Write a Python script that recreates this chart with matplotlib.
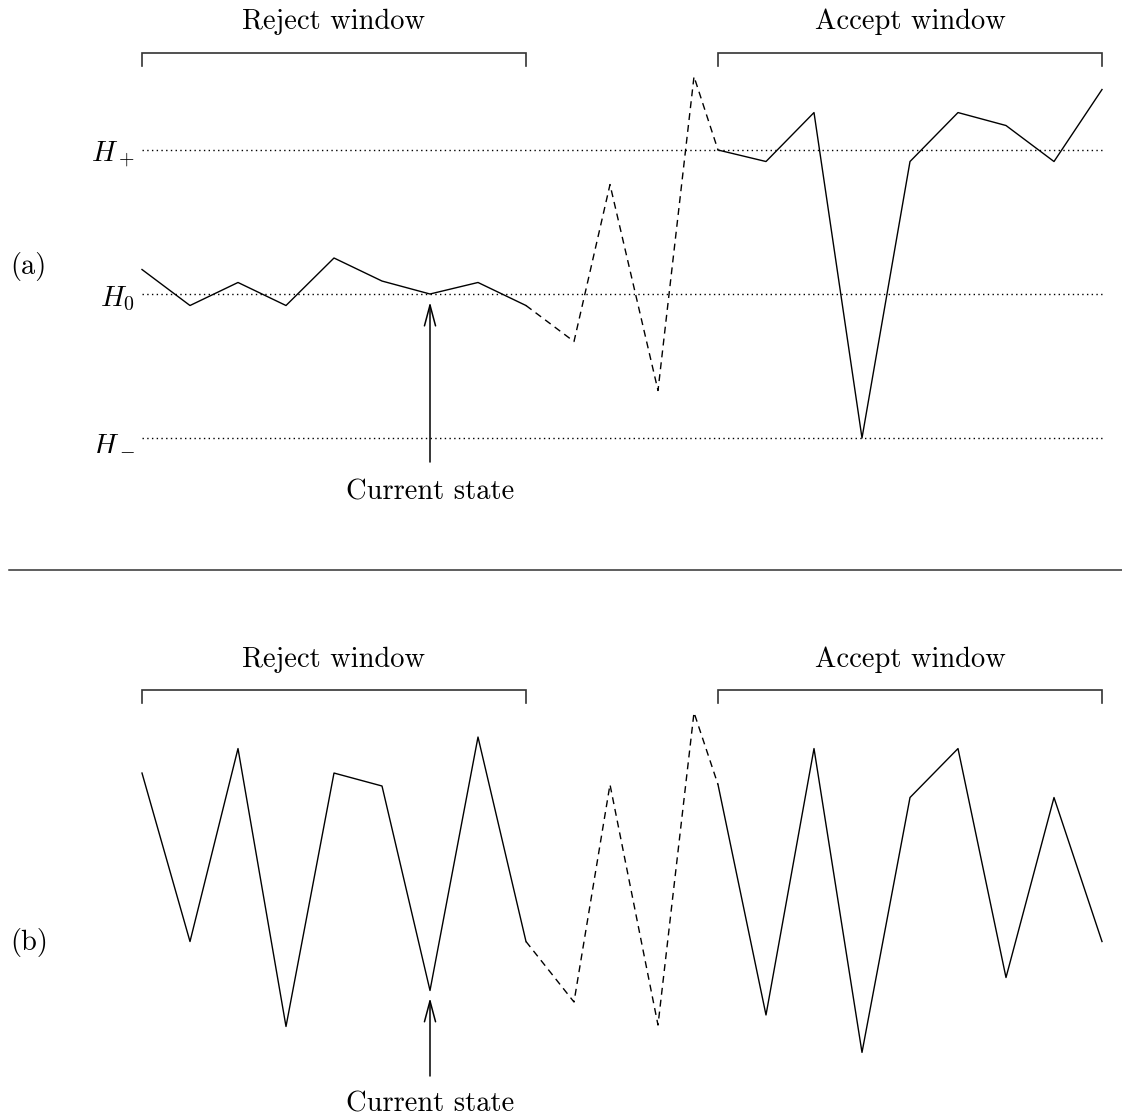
import matplotlib
matplotlib.use("Agg")
import matplotlib.pyplot as plt
from matplotlib.lines import Line2D

plt.rcParams['font.family'] = ['cmr10', 'DejaVu Serif']
plt.rcParams['mathtext.fontset'] = 'cm'
plt.rcParams['axes.formatter.use_mathtext'] = True

# panel (a): states along the chain, thresholds at H-, H0, H+
a_left_x = [0, 1, 2, 3, 4, 5, 6, 7, 8]
a_left = [0.17, -0.08, 0.08, -0.08, 0.25, 0.09, 0.0, 0.08, -0.08]
a_gap_x = [8, 9, 9.75, 10.75, 11.5, 12]
a_gap = [-0.08, -0.33, 0.76, -0.67, 1.51, 1.0]
a_right_x = [12, 13, 14, 15, 16, 17, 18, 19, 20]
a_right = [1.0, 0.92, 1.26, -1.0, 0.92, 1.26, 1.17, 0.92, 1.42]
thresholds = [1.0, 0.0, -1.0]
threshold_labels = [r'$H_+$', r'$H_0$', r'$H_-$']

# panel (b)
b_left_x = a_left_x
b_left = [0.84, -0.33, 1.01, -0.92, 0.84, 0.75, -0.67, 1.09, -0.33]
b_gap_x = a_gap_x
b_gap = [-0.33, -0.75, 0.76, -0.91, 1.26, 0.76]
b_right_x = a_right_x
b_right = [0.76, -0.84, 1.01, -1.10, 0.67, 1.01, -0.58, 0.67, -0.33]

windows = [("Reject window", 0, 8), ("Accept window", 12, 20)]
current = 6

FS = 20.5
dash = (0, (5, 3.6))
dot = (0, (1, 2.4))

fig = plt.figure(figsize=(11.22, 11.18), dpi=100)
ax_a = fig.add_axes([0, 0.5, 1, 0.5])
ax_b = fig.add_axes([0, 0, 1, 0.5])

xlim = (-142 / 48, (1122 - 142) / 48)


def draw_panel(ax, lx, ly, gx, gy, rx, ry, br_y, lab_y, arrow, txt_y, tag, tag_y):
    ax.set_xlim(*xlim)
    ax.axis('off')
    ax.plot(lx, ly, color='black', lw=1.0)
    ax.plot(gx, gy, color='black', lw=1.0, linestyle=dash)
    ax.plot(rx, ry, color='black', lw=1.0)
    for name, x0, x1 in windows:
        ax.plot([x0, x0, x1, x1], [br_y - 0.09, br_y, br_y, br_y - 0.09],
                color='#333333', lw=1.2, solid_joinstyle='miter')
        ax.text((x0 + x1) / 2, lab_y, name, ha='center', va='center', fontsize=FS)
    ax.annotate('', xy=(current, arrow[1]), xytext=(current, arrow[0]),
                arrowprops=dict(arrowstyle='->,head_length=0.75,head_width=0.2',
                                mutation_scale=20, lw=1.1, color='black',
                                shrinkA=0, shrinkB=0))
    ax.text(current, txt_y, "Current state", ha='center', va='center', fontsize=FS)
    ax.text(-2.75, tag_y, tag, ha='left', va='center', fontsize=FS)


ax_a.set_ylim((294 - 559) / 144, 294 / 144)
for h, lab in zip(thresholds, threshold_labels):
    ax_a.plot([0, 20], [h, h], color='black', lw=1.0, linestyle=dot)
    ax_a.text(-0.15, h - 0.085, lab, ha='right', va='baseline', fontsize=FS)
draw_panel(ax_a, a_left_x, a_left, a_gap_x, a_gap, a_right_x, a_right,
           1.674, 1.889, (-1.167, -0.056), -1.375, '(a)', 0.19)

ax_b.set_ylim((894 - 1118) / 144, (894 - 559) / 144)
draw_panel(ax_b, b_left_x, b_left, b_gap_x, b_gap, b_right_x, b_right,
           1.417, 1.625, (-1.264, -0.722), -1.458, '(b)', -0.34)

fig.add_artist(Line2D([0.008, 1.0], [1 - 570 / 1118] * 2, color='#333333', lw=1.1))

fig.savefig("out.png", dpi=100)
